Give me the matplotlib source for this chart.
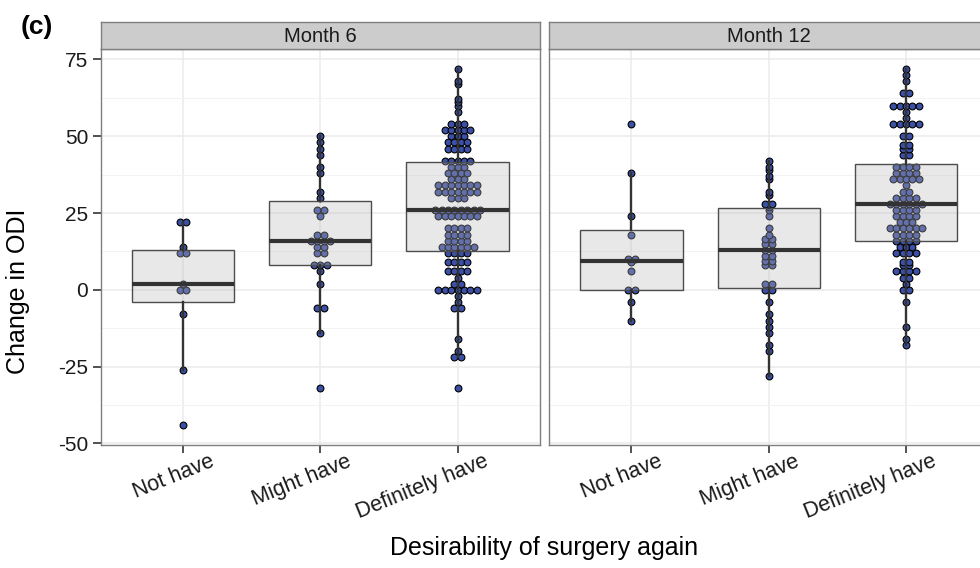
import numpy as np
import matplotlib
matplotlib.use("Agg")
import matplotlib.pyplot as plt
from matplotlib.ticker import FixedLocator
import matplotlib.transforms as mtransforms

plt.rcParams['font.family'] = ['Liberation Sans', 'DejaVu Sans']
plt.rcParams['axes.unicode_minus'] = False

# ---------------- data ----------------
categories = ["Not have", "Might have", "Definitely have"]
panels = ["Month 6", "Month 12"]

m6_not = [22, 22, 14, 12, 12, 2, 0, 0, -8, -26, -44]
m6_might = [50, 48, 46, 44, 40, 38, 32, 30, 26, 26, 24, 18, 18, 16, 16, 16, 16,
            14, 14, 12, 12, 8, 8, 8, 6, 2, -6, -6, -14, -32]
m6_def = [72, 68, 67, 62, 61, 60, 58,
          54, 54, 54, 52, 52, 52, 52, 52, 50, 50, 50, 48, 48, 48, 48,
          46, 46, 46, 46, 42, 42, 42, 42, 42,
          40, 40, 40, 38, 38, 38, 38, 36, 36, 36,
          34, 34, 34, 34, 34, 34, 34, 32, 32, 32, 32, 32, 32, 32,
          30, 30, 30, 26, 26, 26, 26, 26, 26, 26, 26,
          24, 24, 24, 24, 24, 24, 24, 20, 20, 20, 20, 18, 18, 18, 18,
          16, 16, 16, 16, 14, 14, 14, 14, 14, 14, 12, 12, 12, 12,
          9, 9, 9, 9, 6, 6, 6, 6, 4, 2, 2, 0, 0, 0, 0, 0, 0, 0,
          -2, -4, -6, -6, -16, -20, -22, -22, -32]

m12_not = [54, 38, 24, 18, 10, 10, 9, 6, 0, 0, -4, -10]
m12_might = [42, 40, 39, 37, 36, 32, 31, 28, 28, 27, 26, 24, 20, 18,
             16.5, 16.5, 15, 15, 13, 13, 11, 11, 9.5, 9.5, 8, 8,
             2, 2, 0, 0, -4, -8, -10, -12, -14, -18, -20, -28]
m12_def = [72, 70, 68, 64, 64, 60, 60, 60, 60, 60, 58, 56,
           54, 54, 54, 54, 54, 50, 50, 47, 47, 46, 46, 44, 44,
           40, 40, 40, 40, 38, 38, 38, 38, 36, 36, 36, 36, 36, 34,
           32, 32, 30, 30, 30, 30, 28, 28, 28, 28, 28, 28,
           26, 26, 26, 26, 24, 24, 24, 24, 22, 22, 22,
           20, 20, 20, 20, 20, 20, 18, 18, 18, 18, 16, 16, 16, 16,
           14, 14, 14, 12, 12, 12, 12, 9, 9, 8, 8, 6, 6, 6, 6,
           4, 4, 2, 0, 0, -4, -12, -16, -18]

data = {"Month 6": [m6_not, m6_might, m6_def],
        "Month 12": [m12_not, m12_might, m12_def]}

y_ticks = [-50, -25, 0, 25, 50, 75]
y_minor = [-37.5, -12.5, 12.5, 37.5, 62.5]

# ---------------- style ----------------
W, H = 980, 568
fig = plt.figure(figsize=(W / 100, H / 100), dpi=100)

dot_fill = "#3B4FA5"
grid_col = "#EBEBEB"
border_col = "#7F7F7F"
dark = "#333333"

panel_left_px = [100.7, 549.0]
panel_w_px = 439.3
panel_top_px, panel_bot_px = 49.0, 445.0
strip_top_px = 22.0

dot_spacing = 6.4 / (panel_w_px / 3.2)  # dot diameter in data units


def beeswarm(ax, xpos, vals):
    vals = np.asarray(vals, dtype=float)
    uniq = np.unique(vals)
    xs, ys = [], []
    for u in uniq:
        k = int(np.sum(vals == u))
        offs = (np.arange(k) - (k - 1) / 2.0) * dot_spacing
        xs.extend(xpos + offs)
        ys.extend([u] * k)
    ax.scatter(xs, ys, s=24, facecolor=dot_fill, edgecolor="black",
               linewidths=0.8, zorder=2)


axes = []
for i, pname in enumerate(panels):
    l = panel_left_px[i] / W
    b = 1 - panel_bot_px / H
    h = (panel_bot_px - panel_top_px) / H
    ax = fig.add_axes([l, b, panel_w_px / W, h])
    axes.append(ax)
    groups = data[pname]
    positions = np.arange(1, len(categories) + 1)
    for pos, vals in zip(positions, groups):
        beeswarm(ax, pos, vals)
    ax.boxplot(groups, positions=positions, widths=0.745, patch_artist=True,
               showfliers=False, showcaps=False, whis=1.5,
               boxprops=dict(facecolor=(0.72, 0.72, 0.72, 0.32),
                             edgecolor="#4d4d4d", linewidth=1.0),
               whiskerprops=dict(color=dark, linewidth=1.7),
               medianprops=dict(color=dark, linewidth=3.0, solid_capstyle="butt"),
               zorder=3)
    ax.set_xlim(0.4, 3.6)
    ax.set_ylim(-50.5, 78.4)
    ax.set_yticks(y_ticks)
    ax.yaxis.set_minor_locator(FixedLocator(y_minor))
    ax.set_xticks(positions)
    ax.set_xticklabels([])
    # rotated category labels (ggplot style: angle, right-justified)
    trans = mtransforms.blended_transform_factory(ax.transData, ax.transAxes)
    offset = mtransforms.ScaledTranslation(26 / 100, -6 / 100, fig.dpi_scale_trans)
    for pos, cat in zip(positions, categories):
        ax.text(pos, 0, cat, transform=trans + offset, rotation=22,
                ha="right", va="top", rotation_mode="anchor",
                fontsize=15.5, color="#1a1a1a", clip_on=False)
    ax.set_axisbelow(True)
    ax.grid(which="major", color=grid_col, linewidth=1.1)
    ax.grid(which="minor", axis="y", color="#F3F3F3", linewidth=0.7)
    for sp in ax.spines.values():
        sp.set_color(border_col)
        sp.set_linewidth(1.0)
    ax.tick_params(axis="both", which="major", length=6, width=1.2,
                   color=dark, labelsize=15, labelcolor="#1a1a1a", pad=3)
    ax.tick_params(axis="y", which="minor", length=0)
    if i == 1:
        ax.tick_params(axis="y", which="both", left=False, labelleft=False)

    # facet strip
    sax = fig.add_axes([l, 1 - panel_top_px / H, panel_w_px / W,
                        (panel_top_px - strip_top_px) / H])
    sax.set_facecolor("#CCCCCC")
    sax.set_xticks([])
    sax.set_yticks([])
    for sp in sax.spines.values():
        sp.set_color(border_col)
        sp.set_linewidth(1.0)
    sax.text(0.5, 0.48, pname, ha="center", va="center", fontsize=14.5,
             color="#1a1a1a", transform=sax.transAxes)

fig.text(20.7 / W, 1 - 27 / H, "(c)", fontsize=19, fontweight="bold",
         ha="left", va="center")
fig.text(18 / W, 1 - 291 / H, "Change in ODI", rotation=90, fontsize=18,
         ha="center", va="center")
fig.text(544 / W, 1 - 548 / H, "Desirability of surgery again", fontsize=18,
         ha="center", va="center")

fig.savefig("out.png", dpi=100)
